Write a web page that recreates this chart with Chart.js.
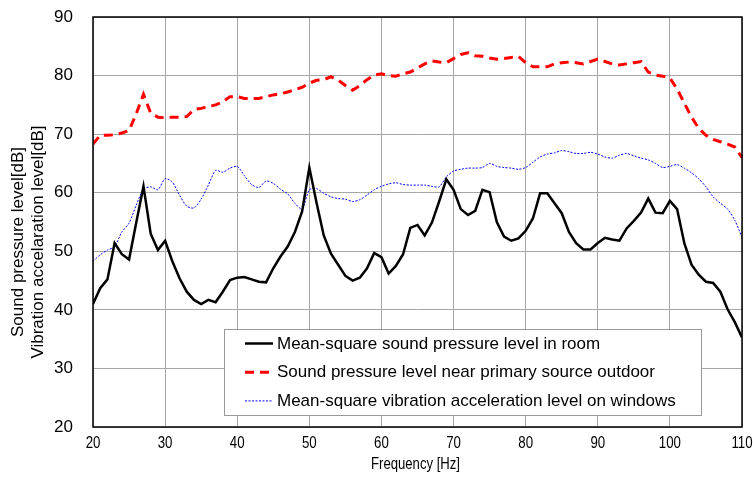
<!DOCTYPE html>
<html>
<head>
<meta charset="utf-8">
<script src="https://cdn.jsdelivr.net/npm/chart.js@4/dist/chart.umd.min.js"></script>
<style>
  html, body { margin: 0; padding: 0; background: #fff; }
  #wrap { width: 753px; height: 478px; }
</style>
</head>
<body>
<div id="wrap"><canvas id="chart" width="753" height="478"></canvas></div>
<script>
// frequencies [Hz]
const freqs = [20, 21, 22, 23, 24, 25, 26, 27, 28, 29, 30, 31, 32, 33, 34, 35, 36, 37, 38, 39,
    40, 41, 42, 43, 44, 45, 46, 47, 48, 49, 50, 51, 52, 53, 54, 55, 56, 57, 58, 59,
    60, 61, 62, 63, 64, 65, 66, 67, 68, 69, 70, 71, 72, 73, 74, 75, 76, 77, 78, 79,
    80, 81, 82, 83, 84, 85, 86, 87, 88, 89, 90, 91, 92, 93, 94, 95, 96, 97, 98, 99,
    100, 101, 102, 103, 104, 105, 106, 107, 108, 109, 110];

// mean-square sound pressure level in room [dB]
const roomLevel = [41.0, 43.7, 45.2, 51.4, 49.5, 48.6, 54.9, 61.1, 53.0, 50.2,
    51.8, 48.3, 45.4, 43.1, 41.7, 41.0, 41.7, 41.3, 43.1, 45.1,
    45.5, 45.6, 45.2, 44.8, 44.7, 47.1, 49.1, 50.8, 53.3, 56.8,
    64.3, 58.3, 52.7, 49.6, 47.7, 45.8, 45.0, 45.5, 47.1, 49.7,
    49.0, 46.2, 47.5, 49.5, 54.0, 54.5, 52.7, 54.9, 58.5, 62.3,
    60.5, 57.2, 56.2, 56.9, 60.5, 60.1, 55.0, 52.5, 51.8, 52.2,
    53.5, 55.6, 59.9, 59.9, 58.2, 56.5, 53.3, 51.4, 50.3, 50.3,
    51.4, 52.3, 52.0, 51.8, 53.9, 55.2, 56.6, 59.0, 56.6, 56.5,
    58.6, 57.2, 51.4, 47.7, 46.0, 44.8, 44.6, 43.1, 40.1, 37.9, 35.3];

// sound pressure level near primary source outdoor [dB]
const outdoorLevel = [68.3, 69.8, 69.8, 69.9, 70.2, 70.6, 73.5, 76.8, 73.6, 72.9,
    72.8, 72.9, 72.9, 73.0, 74.2, 74.4, 74.7, 75.0, 75.5, 76.4,
    76.4, 76.1, 76.1, 76.1, 76.4, 76.7, 76.9, 77.2, 77.6, 78.0,
    78.7, 79.2, 79.3, 79.8, 79.2, 78.3, 77.5, 78.3, 79.3, 80.1,
    80.3, 80.0, 79.9, 80.3, 80.6, 81.3, 82.0, 82.5, 82.3, 82.2,
    82.9, 83.6, 83.9, 83.4, 83.3, 83.0, 82.8, 82.9, 83.1, 83.3,
    82.2, 81.5, 81.5, 81.5, 82.0, 82.2, 82.3, 82.2, 82.0, 82.4,
    82.8, 82.4, 82.0, 81.8, 82.0, 82.2, 82.4, 80.6, 80.1, 79.9,
    79.6, 77.7, 75.3, 72.9, 71.0, 69.8, 69.1, 68.7, 68.3, 67.8, 66.0];

// mean-square vibration acceleration level on windows [dB]
const windowLevel = [48.3, 49.4, 50.2, 50.8, 53.3, 54.8, 57.9, 60.6, 61.0, 60.5,
    62.4, 61.8, 59.6, 57.7, 57.4, 58.9, 61.3, 63.8, 63.5, 64.2,
    64.5, 62.9, 61.4, 60.9, 62.0, 61.6, 60.6, 59.8, 58.2, 57.2,
    60.5, 60.7, 59.9, 59.3, 59.0, 58.9, 58.5, 58.8, 59.6, 60.5,
    61.1, 61.5, 61.7, 61.4, 61.3, 61.3, 61.3, 61.1, 61.0, 62.7,
    63.7, 64.0, 64.2, 64.2, 64.3, 65.0, 64.5, 64.3, 64.2, 64.0,
    64.3, 65.2, 66.1, 66.6, 66.8, 67.2, 67.0, 66.7, 66.7, 66.9,
    66.6, 66.1, 65.9, 66.4, 66.7, 66.3, 65.9, 65.6, 65.0, 64.3,
    64.5, 64.8, 64.2, 63.4, 62.4, 61.0, 59.3, 58.2, 57.2, 55.3, 52.4];

const seriesNames = [
    'Mean-square sound pressure level in room',
    'Sound pressure level near primary source outdoor',
    'Mean-square vibration acceleration level on windows'
];
const xTitle = 'Frequency [Hz]';
const yTitle = ['Sound pressure level[dB]', 'Vibration accelaration level[dB]'];

const toPoints = vals => vals.map((v, i) => ({ x: freqs[i], y: v }));

// frame, narrow x-axis text, two-line y title and the legend box
const framePlugin = {
    id: 'frame',
    afterDraw(chart) {
        const { ctx, chartArea: a, scales } = chart;
        ctx.save();
        ctx.strokeStyle = '#000';
        ctx.lineWidth = 1.5;
        ctx.strokeRect(a.left, a.top, a.right - a.left, a.bottom - a.top);

        // x tick labels + title (condensed look)
        ctx.fillStyle = '#000';
        ctx.textAlign = 'center';
        ctx.textBaseline = 'middle';
        ctx.font = '17px "Liberation Sans", Arial, sans-serif';
        scales.x.ticks.forEach(t => {
            const px = scales.x.getPixelForValue(t.value);
            ctx.save();
            ctx.translate(px, 443);
            ctx.scale(0.78, 1);
            ctx.fillText(String(t.value), 0, 0);
            ctx.restore();
        });
        ctx.font = '16px "Liberation Sans", Arial, sans-serif';
        ctx.save();
        ctx.translate((a.left + a.right) / 2 - 2, 465);
        ctx.scale(0.82, 1);
        ctx.fillText(xTitle, 0, 0);
        ctx.restore();

        // y title, two lines
        ctx.font = '17px "Liberation Sans", Arial, sans-serif';
        yTitle.forEach((line, i) => {
            ctx.save();
            ctx.translate(18 + i * 20, 242);
            ctx.rotate(-Math.PI / 2);
            ctx.fillText(line, 0, 0);
            ctx.restore();
        });

        // legend
        const bx = 224.5, by = 329.5, bw = 477, bh = 86;
        ctx.fillStyle = '#fff';
        ctx.fillRect(bx, by, bw, bh);
        ctx.strokeStyle = '#999';
        ctx.lineWidth = 1;
        ctx.strokeRect(bx, by, bw, bh);

        ctx.textAlign = 'left';
        chart.data.datasets.forEach((ds, i) => {
            const y = 343.5 + i * 28.7;
            ctx.beginPath();
            ctx.strokeStyle = ds.borderColor;
            ctx.lineWidth = ds.borderWidth;
            ctx.setLineDash(ds.borderDash || []);
            ctx.moveTo(245, y);
            ctx.lineTo(273, y);
            ctx.stroke();
            ctx.setLineDash([]);
            ctx.fillStyle = '#000';
            ctx.fillText(ds.label, 277, y + 0.5);
        });
        ctx.restore();
    }
};

new Chart(document.getElementById('chart'), {
    type: 'line',
    data: {
        datasets: [
            {
                label: seriesNames[0],
                data: toPoints(roomLevel),
                borderColor: '#000000',
                borderWidth: 2.5,
                pointRadius: 0,
                tension: 0
            },
            {
                label: seriesNames[1],
                data: toPoints(outdoorLevel),
                borderColor: '#ff0000',
                borderWidth: 3,
                borderDash: [9, 6],
                pointRadius: 0,
                tension: 0
            },
            {
                label: seriesNames[2],
                data: toPoints(windowLevel),
                borderColor: '#0000ff',
                borderWidth: 1,
                borderDash: [2, 1.5],
                pointRadius: 0,
                tension: 0.25
            }
        ]
    },
    options: {
        responsive: false,
        animation: false,
        layout: { padding: { left: 0, top: 17, right: 11, bottom: 0 } },
        plugins: {
            legend: { display: false },
            tooltip: { enabled: false }
        },
        scales: {
            x: {
                type: 'linear',
                min: 20,
                max: 110,
                ticks: { stepSize: 10, display: false },
                grid: { color: '#a6a6a6', lineWidth: 1, drawTicks: false },
                border: { display: false },
                afterFit(scale) { scale.height = 51; }
            },
            y: {
                min: 20,
                max: 90,
                ticks: {
                    stepSize: 10,
                    padding: 2,
                    color: '#000',
                    font: { family: '"Liberation Sans", Arial', size: 17 }
                },
                grid: {
                    color: '#a6a6a6',
                    lineWidth: 1,
                    drawTicks: true,
                    tickLength: 18,
                    tickColor: 'rgba(0,0,0,0)'
                },
                border: { display: false },
                afterFit(scale) { scale.width = 93; }
            }
        }
    },
    plugins: [framePlugin]
});
</script>
</body>
</html>
